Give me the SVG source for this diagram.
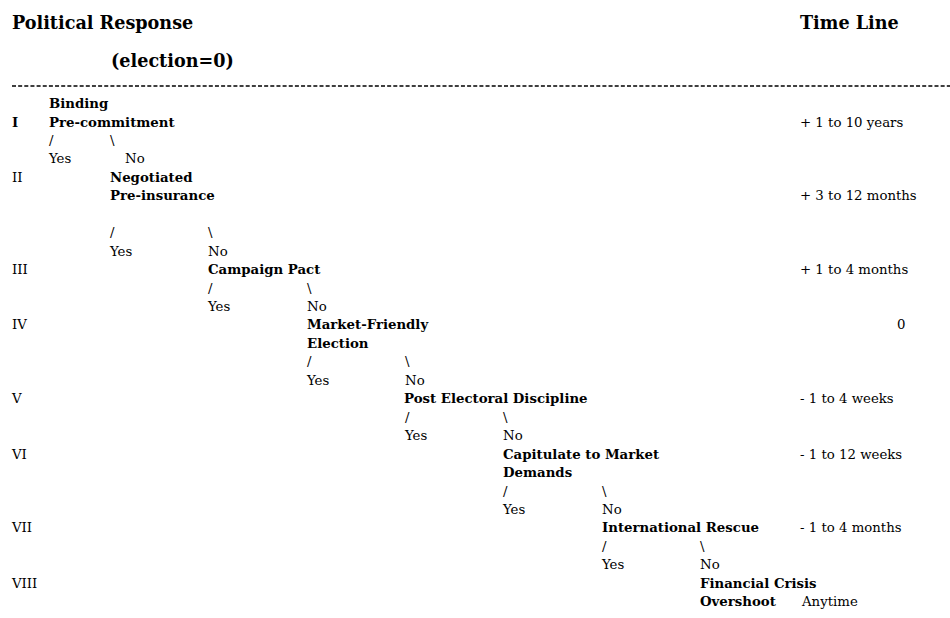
<svg xmlns="http://www.w3.org/2000/svg" width="950" height="618" viewBox="0 0 950 618">
<style>
text{font-family:"DejaVu Serif","Liberation Serif",serif;font-size:13.3px;fill:#000}
.t{font-size:17.6px;font-weight:bold}
.b{font-weight:bold}
.dash{stroke:#000;stroke-width:1.4;stroke-dasharray:4 2.15;fill:none}
</style>
<rect width="950" height="618" fill="#fff"/>
<g id="header">
<text class="t" x="12" y="28.5">Political Response</text>
<text class="t" x="111" y="67">(election=0)</text>
<text class="t" x="800" y="28.5">Time Line</text>
<line class="dash" x1="12" y1="86" x2="950" y2="86"/>
</g>
<g id="levels">
<text class="b" x="12" y="126.5">I</text>
<text x="12" y="181.8">II</text>
<text x="12" y="274">III</text>
<text x="12" y="329.4">IV</text>
<text x="12" y="403.2">V</text>
<text x="12" y="458.6">VI</text>
<text x="12" y="532.4">VII</text>
<text x="12" y="587.7">VIII</text>
</g>
<g id="node-I">
<text class="b" x="49" y="108">Binding</text>
<text class="b" x="49" y="126.5">Pre-commitment</text>
</g>
<g id="node-II">
<text class="b" x="110" y="181.8">Negotiated</text>
<text class="b" x="110" y="200.3">Pre-insurance</text>
</g>
<g id="node-III">
<text class="b" x="208" y="274">Campaign Pact</text>
</g>
<g id="node-IV">
<text class="b" x="307" y="329.4">Market-Friendly</text>
<text class="b" x="307" y="347.9">Election</text>
</g>
<g id="node-V">
<text class="b" x="404" y="403.2">Post Electoral Discipline</text>
</g>
<g id="node-VI">
<text class="b" x="503" y="458.6">Capitulate to Market</text>
<text class="b" x="503" y="477">Demands</text>
</g>
<g id="node-VII">
<text class="b" x="602" y="532.4">International Rescue</text>
</g>
<g id="node-VIII">
<text class="b" x="700" y="587.7">Financial Crisis</text>
<text class="b" x="700" y="606.2">Overshoot</text>
</g>
<g id="connectors">
<text x="49" y="145">/</text><text x="110" y="145">\</text>
<text x="49" y="163.4">Yes</text><text x="125" y="163.4">No</text>
<text x="110" y="237.2">/</text><text x="208" y="237.2">\</text>
<text x="110" y="255.6">Yes</text><text x="208" y="255.6">No</text>
<text x="208" y="292.5">/</text><text x="307" y="292.5">\</text>
<text x="208" y="311">Yes</text><text x="307" y="311">No</text>
<text x="307" y="366.3">/</text><text x="405" y="366.3">\</text>
<text x="307" y="384.8">Yes</text><text x="405" y="384.8">No</text>
<text x="405" y="421.7">/</text><text x="503" y="421.7">\</text>
<text x="405" y="440.1">Yes</text><text x="503" y="440.1">No</text>
<text x="503" y="495.5">/</text><text x="602" y="495.5">\</text>
<text x="503" y="513.9">Yes</text><text x="602" y="513.9">No</text>
<text x="602" y="550.8">/</text><text x="700" y="550.8">\</text>
<text x="602" y="569.3">Yes</text><text x="700" y="569.3">No</text>
</g>
<g id="timeline">
<text x="800" y="126.5">+ 1 to 10 years</text>
<text x="800" y="200.3">+ 3 to 12 months</text>
<text x="800" y="274">+ 1 to 4 months</text>
<text x="897" y="329.4">0</text>
<text x="800" y="403.2">- 1 to 4 weeks</text>
<text x="800" y="458.6">- 1 to 12 weeks</text>
<text x="800" y="532.4">- 1 to 4 months</text>
<text x="802" y="606.2">Anytime</text>
</g>
</svg>
